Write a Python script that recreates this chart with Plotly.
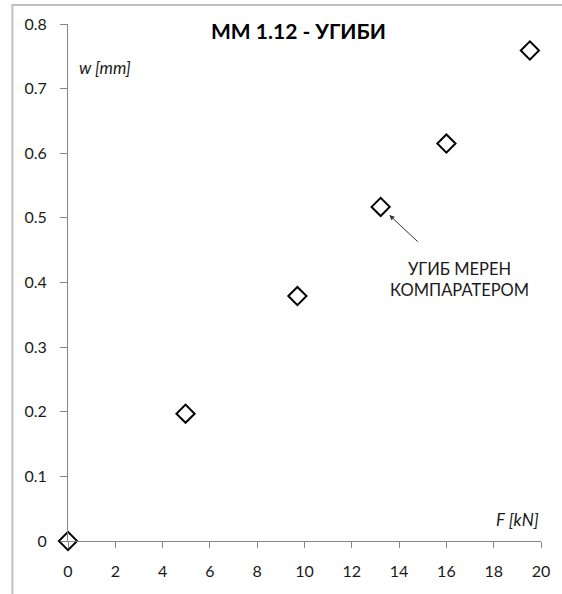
import plotly.graph_objects as go

F_kN = [0, 4.97, 9.7, 13.22, 16.0, 19.53]
w_mm = [0, 0.197, 0.379, 0.517, 0.615, 0.759]
x_ticks = [0, 2, 4, 6, 8, 10, 12, 14, 16, 18, 20]
y_ticks = [0, 0.1, 0.2, 0.3, 0.4, 0.5, 0.6, 0.7, 0.8]
y_tick_labels = ["0", "0.1", "0.2", "0.3", "0.4", "0.5", "0.6", "0.7", "0.8"]
title_text = "MM 1.12 - УГИБИ"
note_text = "УГИБ МЕРЕН<br>КОМПАРАТЕРОМ"
note_point = (13.22, 0.517)
note_text_pos = (16.55, 0.405)
arrow_tail = (14.85, 0.461)

FONT = "Lato, Carlito, Calibri, 'Open Sans', sans-serif"
AX = "#868686"

fig = go.Figure()
fig.add_trace(go.Scatter(
    x=F_kN, y=w_mm, mode="markers",
    marker=dict(symbol="diamond-open", size=14, color="black",
                line=dict(width=2, color="black")),
    showlegend=False, cliponaxis=False,
))

fig.update_layout(
    width=562, height=594,
    margin=dict(l=68, r=18, t=24, b=53),
    paper_bgcolor="white", plot_bgcolor="white",
    font=dict(family=FONT, size=15, color="#1a1a1a"),
    xaxis=dict(range=[0, 20], tickvals=x_ticks, showgrid=False, zeroline=False,
               showline=True, linecolor=AX, linewidth=1,
               ticks="outside", ticklen=6, tickcolor=AX,
               ticklabelstandoff=10, tickfont=dict(size=16)),
    yaxis=dict(range=[0, 0.8], tickvals=y_ticks, ticktext=y_tick_labels,
               showgrid=False, zeroline=False,
               showline=True, linecolor=AX, linewidth=1,
               ticks="outside", ticklen=7, tickcolor=AX,
               ticklabelstandoff=10, tickfont=dict(size=16)),
    shapes=[dict(type="rect", xref="paper", yref="paper",
                 x0=-0.1176, x1=1.5, y0=-0.5, y1=1.0368,
                 line=dict(color="#c0c0c0", width=2), layer="below")],
    annotations=[
        dict(text="<b>" + title_text + "</b>", xref="paper", yref="paper",
             x=0.488, y=1.0, yanchor="middle", xanchor="center",
             yshift=-6, showarrow=False,
             font=dict(family=FONT, size=21, color="black")),
        dict(text="<i>w [mm]</i>", xref="paper", yref="paper",
             x=0.02, y=0.915, xanchor="left", yanchor="middle",
             showarrow=False, font=dict(family=FONT, size=17, color="#1a1a1a")),
        dict(text="<i>F [kN]</i>", xref="paper", yref="paper",
             x=1.0, y=0.042, xanchor="right", yanchor="middle",
             showarrow=False, font=dict(family=FONT, size=17, color="#1a1a1a")),
        dict(text="", x=note_point[0], y=note_point[1],
             xref="x", yref="y", showarrow=True,
             arrowhead=2, arrowsize=1, arrowwidth=1, arrowcolor="#333",
             ax=arrow_tail[0], ay=arrow_tail[1], axref="x", ayref="y",
             standoff=12),
        dict(text=note_text, x=note_text_pos[0], y=note_text_pos[1],
             xref="x", yref="y", showarrow=False, align="center",
             font=dict(family=FONT, size=16.5, color="#1a1a1a")),
    ],
)

fig.write_html("out.html", config={"displayModeBar": False},
               post_script="document.body.style.margin='0';")
